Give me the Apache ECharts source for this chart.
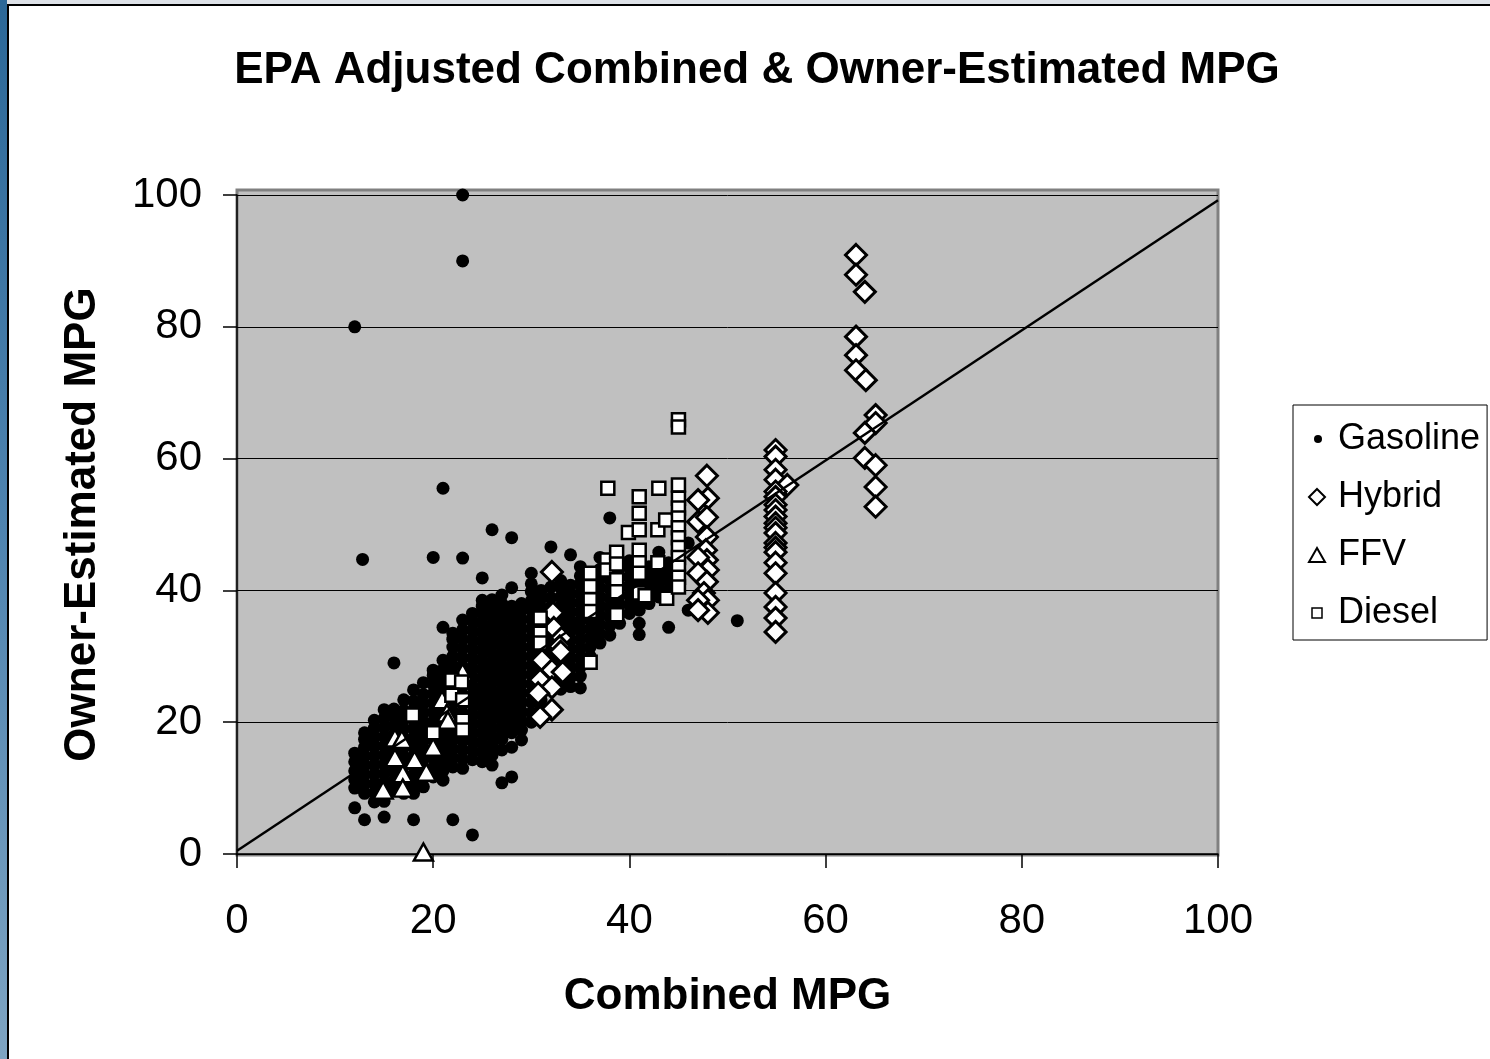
<!DOCTYPE html>
<html>
<head>
<meta charset="utf-8">
<script src="https://cdn.jsdelivr.net/npm/echarts@6/dist/echarts.min.js"></script>
<style>
html,body{margin:0;padding:0;width:1490px;height:1059px;overflow:hidden;}
#bg{position:absolute;left:0;top:0;width:1490px;height:1059px;background:linear-gradient(to bottom,#2c6898 0%,#4f84b0 50%,#7ea4c2 100%);}
#topstrip{position:absolute;left:7px;top:0;width:1483px;height:4px;background:#dde1e7;}
#frame{position:absolute;left:7px;top:4px;width:1483px;height:1055px;background:#fff;border-left:2px solid #000;border-top:2px solid #000;box-sizing:border-box;}
#chart{position:absolute;left:0;top:0;width:1490px;height:1059px;}
</style>
</head>
<body>
<div id="bg"></div>
<div id="topstrip"></div>
<div id="frame"></div>
<div id="chart"></div>
<script>
// ---- data ----
const xTicks = [0, 20, 40, 60, 80, 100];
const yTicks = [0, 20, 40, 60, 80, 100];

// Gasoline: dense columns at integer combined MPG values
const gasolineX = [12,13,14,15,16,17,18,19,20,21,22,23,24,25,26,27,28,29,30,31,32,33,34,35,36,37,38,39,40,41,42,43,44];
const gasolineY = [
  [10, 11.3, 12.6, 14, 15.3],
  [9.2, 10.6, 12, 13.4, 14.8, 16.2, 17.4, 18.4],
  [7.9, 9.3, 10.7, 12.1, 13.5, 14.9, 16.3, 17.7, 19.1, 20.3],
  [8, 9.4, 10.8, 12.2, 13.6, 15, 16.4, 17.8, 19.2, 20.6, 21.9],
  [9.7, 11.1, 12.5, 13.9, 15.3, 16.7, 18.1, 19.5, 20.9, 22],
  [9.2, 10.6, 12, 13.4, 14.8, 16.2, 17.6, 19, 20.4, 21.8, 23.4],
  [9.2, 10.6, 12, 13.4, 14.8, 16.2, 17.6, 19, 20.4, 21.8, 23.2, 24.9],
  [10.2, 11.6, 13, 14.4, 15.8, 17.2, 18.6, 20, 21.4, 22.8, 24.2, 26],
  [11.7, 13.1, 14.5, 15.9, 17.3, 18.7, 20.1, 21.5, 22.9, 24.3, 25.7, 27.1, 27.9],
  [11.2, 12.6, 14, 15.4, 16.8, 18.2, 19.6, 21, 22.4, 23.8, 25.2, 26.6, 28, 29.4],
  [13.2, 14.6, 16, 17.4, 18.8, 20.2, 21.6, 23, 24.4, 25.8, 27.2, 28.6, 30, 31.4, 32.6, 33.5],
  [13, 14.4, 15.8, 17.2, 18.6, 20, 21.4, 22.8, 24.2, 25.6, 27, 28.4, 29.8, 31.2, 32.6, 34, 35.5],
  [14.3, 15.7, 17.1, 18.5, 19.9, 21.3, 22.7, 24.1, 25.5, 26.9, 28.3, 29.7, 31.1, 32.5, 33.9, 35.3, 36.5],
  [14, 15.4, 16.8, 18.2, 19.6, 21, 22.4, 23.8, 25.2, 26.6, 28, 29.4, 30.8, 32.2, 33.6, 35, 36.4, 37.6, 38.5],
  [13.5, 15, 16.4, 17.8, 19.2, 20.6, 22, 23.4, 24.8, 26.2, 27.6, 29, 30.4, 31.8, 33.2, 34.6, 36, 37.4, 38.6],
  [15.8, 17.4, 18.8, 20.2, 21.6, 23, 24.4, 25.8, 27.2, 28.6, 30, 31.4, 32.8, 34.2, 35.6, 37, 38, 39.3],
  [16.2, 18.4, 19.8, 21.2, 22.6, 24, 25.4, 26.8, 28.2, 29.6, 31, 32.4, 33.8, 35.2, 36.6, 37.6, 40.4],
  [17.3, 18.8, 20.2, 21.6, 23, 24.4, 25.8, 27.2, 28.6, 30, 31.4, 32.8, 34.2, 35.6, 37, 38],
  [20, 21.4, 23, 24.4, 25.8, 27.2, 28.6, 30, 31.4, 32.8, 34.2, 35.6, 37, 38.4, 39.8, 41, 42.6],
  [22, 23.4, 24.8, 26.2, 27.6, 29, 30.4, 31.8, 33.2, 34.6, 36, 37.4, 38.8, 40],
  [24.9, 26.3, 27.7, 29.1, 30.5, 31.9, 33.3, 34.7, 36.1, 37.5, 38.9, 40.5],
  [25, 26.4, 27.8, 29.2, 30.6, 32, 33.4, 34.8, 36.2, 37.6, 39, 40.4, 41.5],
  [25.4, 26.8, 28.2, 29.6, 31, 32.4, 33.8, 35.2, 36.6, 38, 39.4, 40.8],
  [25.2, 27, 28.4, 29.8, 31.2, 32.6, 34, 35.4, 36.8, 38.2, 39.6, 41, 42.2, 43.6],
  [30, 31.4, 32.8, 34.2, 35.6, 37, 38.4, 39.8, 41.2, 42.4],
  [32, 33.4, 34.8, 36.2, 37.6, 39, 40.4, 41.8, 43.2, 45],
  [33.2, 34.6, 36, 37.4, 38.8, 40.2, 41.6, 43, 44.2],
  [35, 36.4, 37.8, 39.2, 40.6, 42, 43.4],
  [36.5, 37.9, 39.3, 40.7, 42.1, 43.5, 44.5],
  [33.3, 35, 37, 38.4, 39.8, 41.2, 42.6, 44, 45.4],
  [38, 39.4, 40.8, 42.2, 43.6],
  [39, 40.4, 41.8, 43.2, 45.8],
  [34.4, 40, 41.4, 42.8, 44.2]
];
const gasolineOutliers = [
  [12, 80], [23, 100], [23, 90], [12.8, 44.7], [21, 55.5], [20, 45], [23, 44.9],
  [26, 49.2], [28, 48], [32, 46.6], [34, 45.4], [38, 51], [46, 47.2], [46, 37],
  [51, 35.4], [28, 11.7], [27, 10.8], [12, 7], [13, 5.2], [15, 5.6], [18, 5.2],
  [22, 5.2], [24, 2.9], [16, 29], [21, 34.4], [25, 41.9]
];

const hybrid = [
  [32.1, 42.8], [32.2, 36.6], [32.3, 34.3], [33.1, 32.8], [32.9, 31.5], [33, 30.7],
  [31.1, 29.4], [32.1, 27.9], [33.2, 27.6], [30.9, 26.4], [32.1, 25.3], [30.7, 24.4],
  [32.1, 21.9], [30.9, 20.8],
  [47.9, 57.4], [48, 54], [47, 53.7], [47, 50.4], [47.9, 51.1], [47.9, 48.1],
  [47.8, 46.1], [47.9, 44.6], [47, 45], [48, 43.1], [47, 42.6], [47.9, 41.3],
  [47.6, 39.6], [48, 38.5], [47, 38.5], [48, 36.6], [47, 37],
  [54.9, 61.3], [54.9, 60.3], [54.9, 58.3], [54.9, 56.8], [56.1, 56], [54.9, 55],
  [54.9, 54.2], [54.9, 53], [54.9, 52.2], [54.9, 51.2], [54.9, 50.2], [54.9, 49.5],
  [54.9, 48.7], [54.9, 47.2], [54.9, 46.5], [54.9, 45.8], [54.9, 44.2], [54.9, 42.6],
  [54.9, 39.6], [54.9, 37.5], [54.9, 35.8], [54.9, 33.7],
  [63.1, 90.9], [63.1, 87.9], [64, 85.3], [63.1, 78.5], [63.1, 75.7], [63.1, 73.4],
  [64.1, 71.9], [65.1, 66.6], [65.1, 65.4], [64, 63.9], [64, 60.1], [65.1, 59],
  [65.1, 55.7], [65.1, 52.7]
];

const ffv = [
  [23, 27.6], [20.9, 23.4], [21.4, 21.4], [21.5, 20.3], [20, 16.2], [18.1, 14.3],
  [16.9, 12.2], [14.9, 9.7], [16.9, 10], [16.1, 14.6], [16.1, 17.6], [16.8, 17.4],
  [19.3, 12.4], [19, 0.3]
];

const diesel = [
  [17.9, 21.1], [21.9, 26.4], [22.9, 26.1], [21.9, 24.1], [23, 23.4], [23, 20.3],
  [23, 18.8], [20, 18.4],
  [30.9, 35.8], [30.9, 33.5], [30.9, 32],
  [36, 42.6], [36, 40.6], [36, 38.6], [36, 36.8], [36, 29.1],
  [37.7, 44.6], [37.7, 43.1], [38.7, 45.8], [38.7, 44], [38.7, 41.6], [38.7, 39.8],
  [38.7, 36.3], [39.9, 48.8],
  [41, 54.2], [41, 51.7], [41, 49.2], [41, 46.1], [41, 44.2], [41, 42.6], [41, 39.6],
  [37.8, 55.5], [41.6, 39.2], [43, 55.5], [42.9, 49.2], [43.7, 50.7], [42.9, 44.2], [43.8, 38.8],
  [45, 65.9], [45, 64.8], [45, 56], [45, 54], [45, 52.5], [45, 51], [45, 49.5], [45, 48],
  [45, 46.5], [45, 45], [45, 43.5], [45, 42], [45, 40.5]
];

const trendLine = [[0, 0.5], [100, 99.2]];

// ---- build ----
const gasoline = [];
gasolineX.forEach((x, i) => gasolineY[i].forEach(y => gasoline.push([x, y])));
gasolineOutliers.forEach(p => gasoline.push(p));

const FONT = '"Liberation Sans", Arial, Helvetica, sans-serif';
const chart = echarts.init(document.getElementById('chart'), null, {renderer: 'canvas'});

const option = {
  animation: false,
  backgroundColor: 'transparent',
  title: {
    text: 'EPA Adjusted Combined & Owner-Estimated MPG',
    left: 752, top: 44, textAlign: 'center',
    textStyle: {fontFamily: FONT, fontSize: 44, fontWeight: 'bold', color: '#000'}
  },
  graphic: [{
    type: 'rect', z: -10, silent: true,
    shape: {x: 237, y: 190, width: 981, height: 665},
    style: {fill: '#C0C0C0', stroke: '#808080', lineWidth: 3}
  }],
  grid: {left: 237, right: 272, top: 195, bottom: 205, containLabel: false},
  xAxis: {
    type: 'value', min: 0, max: 100, interval: 20,
    name: 'Combined MPG', nameLocation: 'middle', nameGap: 121,
    nameTextStyle: {fontFamily: FONT, fontSize: 44, fontWeight: 'bold', color: '#000'},
    axisLine: {show: true, onZero: false, lineStyle: {color: '#000', width: 1.5}},
    axisTick: {show: true, length: 14, lineStyle: {color: '#000', width: 1.5}},
    axisLabel: {margin: 46, fontFamily: FONT, fontSize: 42, color: '#000',
      formatter: v => xTicks.includes(v) ? String(v) : ''},
    splitLine: {show: false}
  },
  yAxis: {
    type: 'value', min: 0, max: 100, interval: 20,
    name: 'Owner-Estimated MPG', nameLocation: 'middle', nameGap: 132, nameRotate: 90,
    nameTextStyle: {fontFamily: FONT, fontSize: 44, fontWeight: 'bold', color: '#000'},
    axisLine: {show: true, onZero: false, lineStyle: {color: '#000', width: 1.5}},
    axisTick: {show: true, length: 14, lineStyle: {color: '#000', width: 1.5}},
    axisLabel: {margin: 35, fontFamily: FONT, fontSize: 42, color: '#000',
      formatter: v => yTicks.includes(v) ? String(v) : ''},
    splitLine: {show: true, lineStyle: {color: '#000', width: 1}}
  },
  legend: {
    orient: 'vertical', left: 1293, top: 405,
    padding: [14, 7, 7, 9], itemGap: 18, itemWidth: 30, itemHeight: 18,
    borderColor: '#000', borderWidth: 1, backgroundColor: '#fff', selectedMode: false,
    textStyle: {fontFamily: FONT, fontSize: 36, lineHeight: 40, color: '#000'},
    data: [
      {name: 'Gasoline', icon: 'path://M0,0M30,18M11,9A4,4,0,1,1,19,9A4,4,0,1,1,11,9Z',
        itemStyle: {color: '#000', borderWidth: 0}},
      {name: 'Hybrid', icon: 'path://M0,0M30,18M14,1L22,9L14,17L6,9Z',
        itemStyle: {color: '#fff', borderColor: '#000', borderWidth: 2}},
      {name: 'FFV', icon: 'path://M0,0M30,18M14,2L22,16L6,16Z',
        itemStyle: {color: '#fff', borderColor: '#000', borderWidth: 2}},
      {name: 'Diesel', icon: 'path://M0,0M30,18M9,4L19,4L19,14L9,14Z',
        itemStyle: {color: '#fff', borderColor: '#000', borderWidth: 1.5}}
    ]
  },
  series: [
    {name: 'Gasoline', type: 'scatter', data: gasoline, symbol: 'circle', symbolSize: 13,
      itemStyle: {color: '#000', opacity: 1}, clip: false, emphasis: {disabled: true}},
    {name: 'Hybrid', type: 'scatter', data: hybrid, symbol: 'diamond', symbolSize: 21,
      itemStyle: {color: '#fff', borderColor: '#000', borderWidth: 3, opacity: 1}, clip: false, emphasis: {disabled: true}},
    {name: 'FFV', type: 'scatter', data: ffv, symbol: 'triangle', symbolSize: [19, 17],
      itemStyle: {color: '#fff', borderColor: '#000', borderWidth: 2.5, opacity: 1}, clip: false, emphasis: {disabled: true}},
    {name: 'Diesel', type: 'scatter', data: diesel, symbol: 'rect', symbolSize: 13,
      itemStyle: {color: '#fff', borderColor: '#000', borderWidth: 2.5, opacity: 1}, clip: false, emphasis: {disabled: true}},
    {name: 'Trend', type: 'line', data: trendLine, symbol: 'none', z: 5, silent: true,
      lineStyle: {color: '#000', width: 2.5}, emphasis: {disabled: true}}
  ]
};
chart.setOption(option);
</script>
</body>
</html>
